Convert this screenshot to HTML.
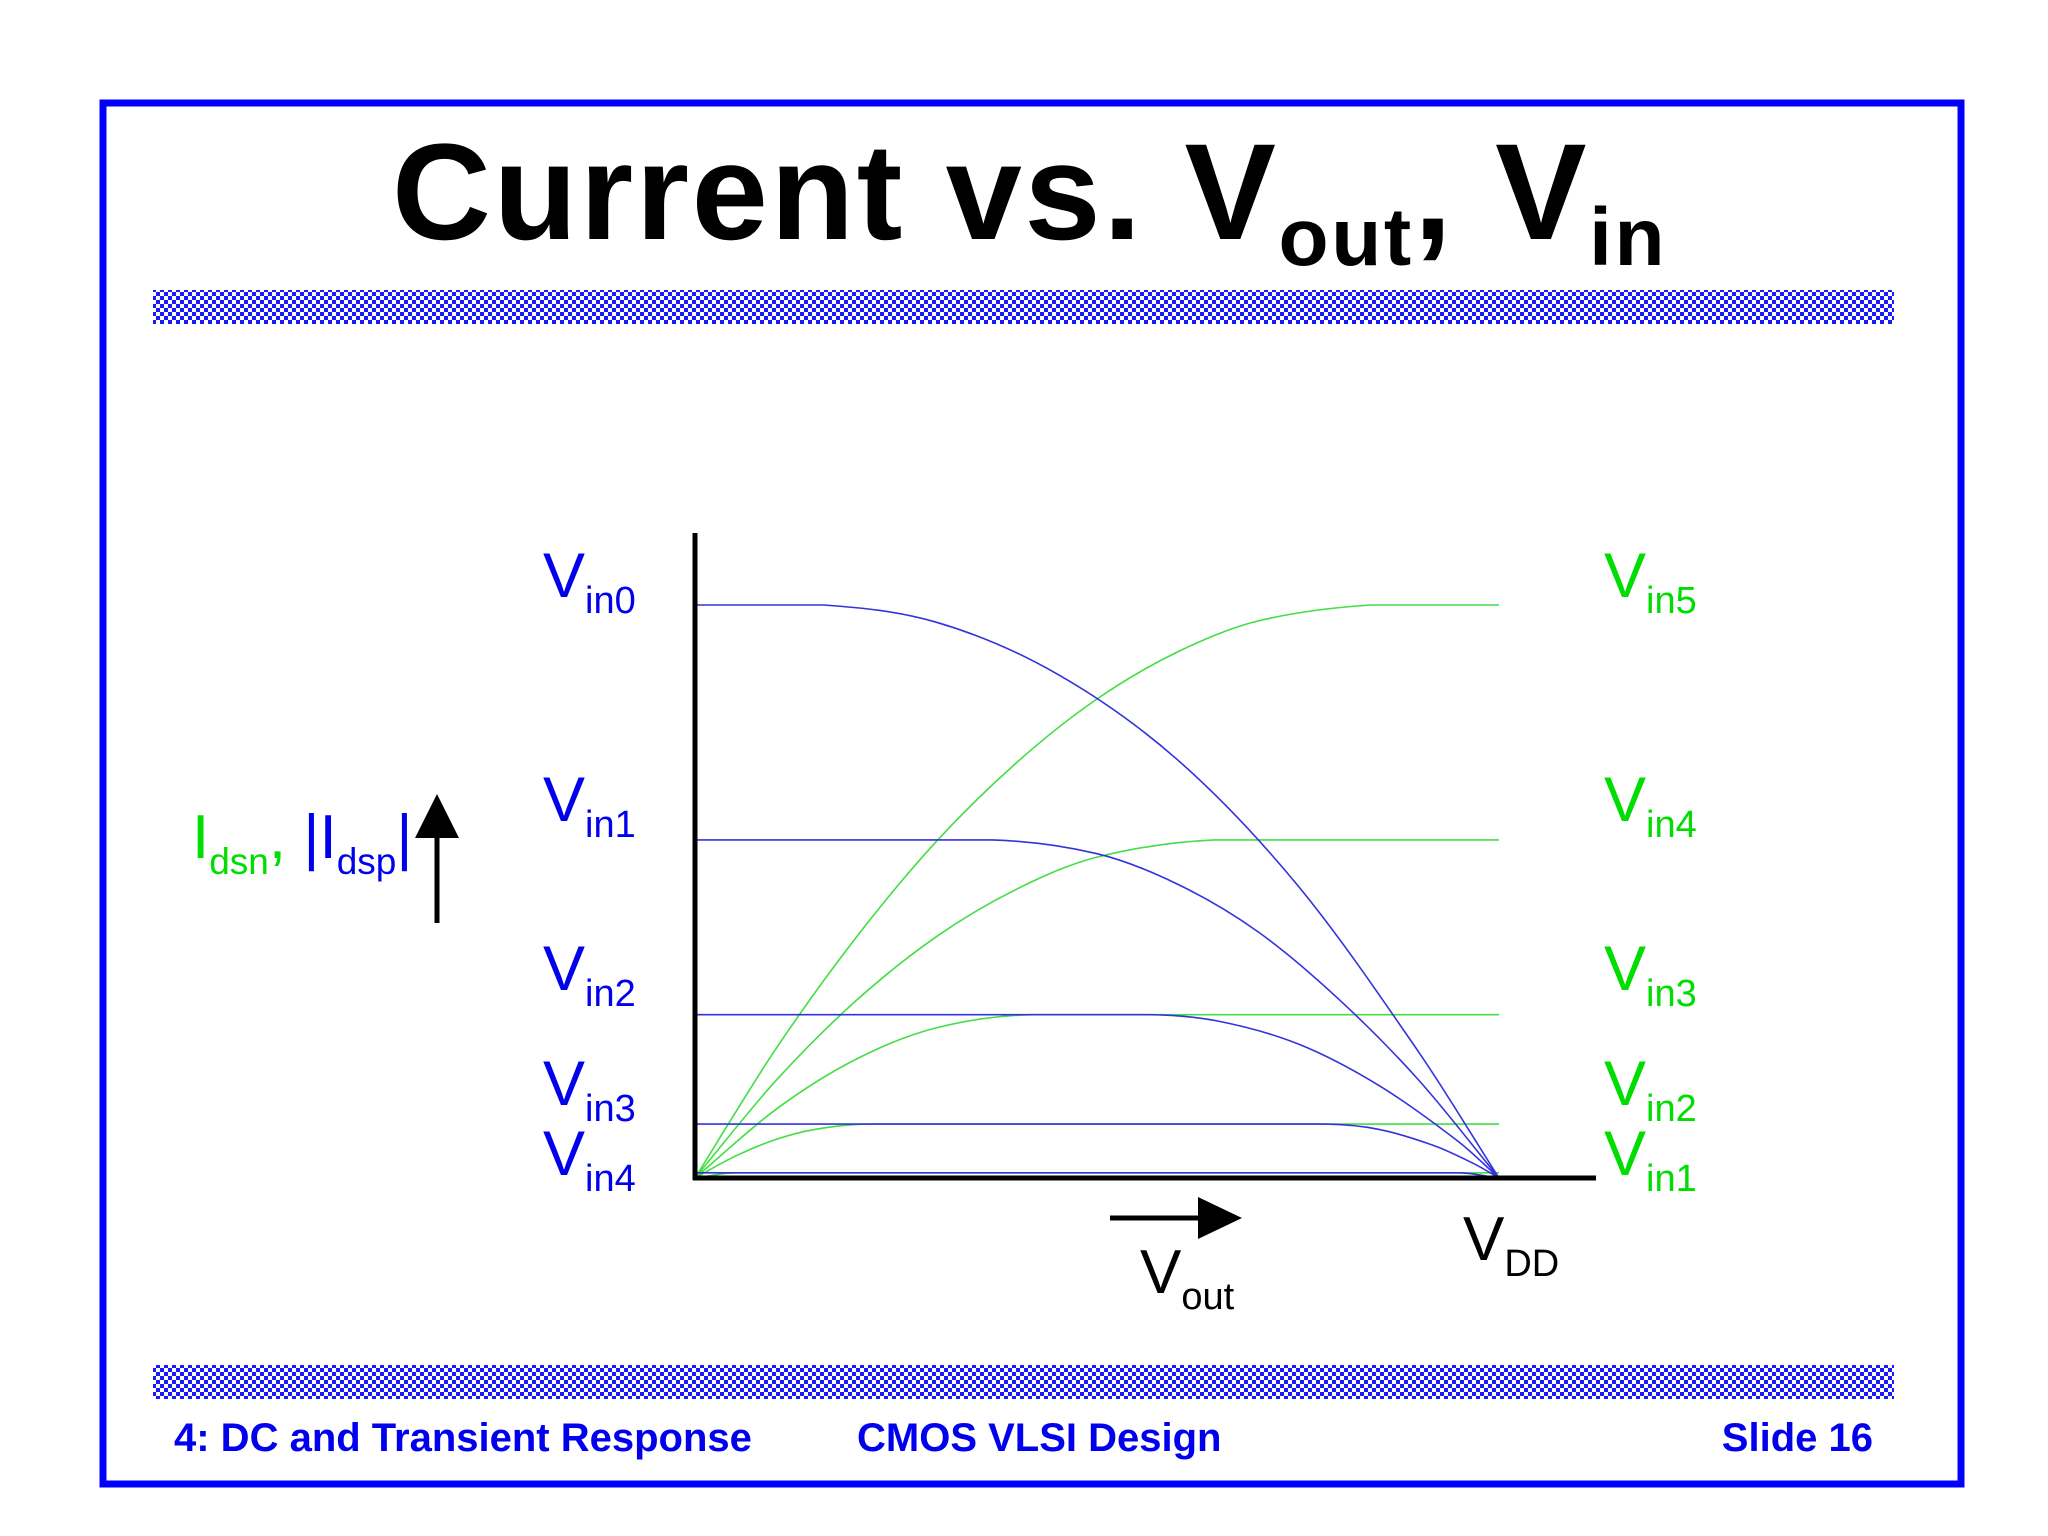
<!DOCTYPE html>
<html><head><meta charset="utf-8"><style>
html,body{margin:0;padding:0;background:#fff;}
svg{display:block;font-family:"Liberation Sans",Arial,sans-serif;}
</style></head><body>
<svg id="slide" width="2048" height="1536" viewBox="0 0 2048 1536" xmlns="http://www.w3.org/2000/svg">
<defs>
<pattern id="chk" width="8" height="8" patternUnits="userSpaceOnUse">
<rect width="8" height="8" fill="#fff"/><rect width="4" height="4" fill="#1a1aff"/><rect x="4" y="4" width="4" height="4" fill="#1a1aff"/>
</pattern>
</defs>
<rect x="103" y="103" width="1858" height="1381" fill="none" stroke="#0000ff" stroke-width="7"/>
<text x="392" y="239" font-size="137" font-weight="bold" letter-spacing="2.6" fill="#000">Current vs. V<tspan font-size="82" dy="26">out</tspan><tspan dy="-26">, V</tspan><tspan font-size="82" dy="26">in</tspan></text>
<rect x="153" y="290" width="1741" height="34" fill="url(#chk)"/>
<rect x="153" y="1365" width="1741" height="34" fill="url(#chk)"/>
<g font-size="40" font-weight="bold" fill="#0000ee">
<text x="174" y="1451">4: DC and Transient Response</text>
<text x="857" y="1451">CMOS VLSI Design</text>
<text x="1873" y="1451" text-anchor="end">Slide 16</text>
</g>
<g id="plot"></g>
<text x="192" y="858" font-size="62" fill="#00dd00">I<tspan font-size="37" dy="16">dsn</tspan><tspan dy="-16">, </tspan><tspan fill="#0000ee">|I</tspan><tspan fill="#0000ee" font-size="37" dy="16">dsp</tspan><tspan fill="#0000ee" dy="-16">|</tspan></text>
<g>
<line x1="437" y1="923" x2="437" y2="830" stroke="#000" stroke-width="5"/>
<polygon points="437,794 415,838 459,838" fill="#000"/>
</g>
<g>
<line x1="1110" y1="1218" x2="1205" y2="1218" stroke="#000" stroke-width="5"/>
<polygon points="1242,1218 1198,1197 1198,1239" fill="#000"/>
</g>
<text x="1140" y="1293" font-size="62" fill="#000">V<tspan font-size="38" dy="16">out</tspan></text>
<text x="1463" y="1260" font-size="62" fill="#000">V<tspan font-size="38" dy="16">DD</tspan></text>
</svg>
<script>
const blueNames = ['Vin0','Vin1','Vin2','Vin3','Vin4'];
const blueX0 = [0,0.16,0.3,0.45,0.6,0.75,0.9,1];
const blueY0 = [1,1,0.97,0.88,0.73,0.51,0.22,0];
const blueX1 = [0,0.37,0.5,0.6,0.7,0.8,0.9,1];
const blueY1 = [0.59,0.59,0.566,0.513,0.43,0.313,0.171,0];
const blueX2 = [0,0.565,0.65,0.75,0.85,0.95,1];
const blueY2 = [0.285,0.285,0.274,0.234,0.162,0.063,0];
const blueX3 = [0,0.784,0.85,0.92,0.97,1];
const blueY3 = [0.094,0.094,0.085,0.056,0.024,0];
const blueX4 = [0,0.95,1];
const blueY4 = [0.009,0.009,0];
const greenNames = ['Vin5','Vin4','Vin3','Vin2','Vin1'];
const greenX5 = [0,0.1,0.2,0.3,0.4,0.5,0.6,0.7,0.84,1];
const greenY5 = [0,0.224,0.419,0.587,0.725,0.836,0.918,0.972,1,1];
const greenX4 = [0,0.1,0.2,0.3,0.4,0.5,0.646,1];
const greenY4 = [0,0.169,0.309,0.421,0.504,0.56,0.59,0.59];
const greenX3 = [0,0.1,0.2,0.3,0.42,1];
const greenY3 = [0,0.119,0.207,0.262,0.285,0.285];
const greenX2 = [0,0.05,0.1,0.15,0.216,1];
const greenY2 = [0,0.038,0.067,0.085,0.094,0.094];
const greenX1 = [0,0.05,1];
const greenY1 = [0,0.009,0.009];
const leftLabelY = [597,821,990,1105,1175];
const labelSubs = ['0','1','2','3','4'];
const rightSubs = ['5','4','3','2','1'];

const NS='http://www.w3.org/2000/svg';
const plot=document.getElementById('plot');
const X0=695, X1=1499, Y0=1178, YH=573;
const sx=v=>X0+v*(X1-X0);
const sy=v=>Y0-v*YH;
const clamp=(v,a,b)=>Math.min(Math.max(v,Math.min(a,b)),Math.max(a,b));
function curve(xs,ys,color,name){
  const P=xs.map((x,i)=>[sx(x),sy(ys[i])]);
  let d='M'+P[0][0].toFixed(1)+','+P[0][1].toFixed(1);
  for(let i=0;i<P.length-1;i++){
    const p0=P[Math.max(0,i-1)],p1=P[i],p2=P[i+1],p3=P[Math.min(P.length-1,i+2)];
    const h=p2[0]-p1[0];
    const s1=(p2[1]-p0[1])/Math.max(p2[0]-p0[0],1e-6);
    const s2=(p3[1]-p1[1])/Math.max(p3[0]-p1[0],1e-6);
    let c1=[p1[0]+h/3,clamp(p1[1]+s1*h/3,p1[1],p2[1])];
    let c2=[p2[0]-h/3,clamp(p2[1]-s2*h/3,p1[1],p2[1])];
    if(p1[1]===p2[1]){c1[1]=p1[1];c2[1]=p2[1];}
    d+=' C'+c1[0].toFixed(1)+','+c1[1].toFixed(1)+' '+c2[0].toFixed(1)+','+c2[1].toFixed(1)+' '+p2[0].toFixed(1)+','+p2[1].toFixed(1);
  }
  const p=document.createElementNS(NS,'path');
  p.setAttribute('d',d);
  p.setAttribute('fill','none');p.setAttribute('stroke',color);p.setAttribute('stroke-width','1.6');
  
  
  plot.appendChild(p);
}
const greens=[[greenX5,greenY5],[greenX4,greenY4],[greenX3,greenY3],[greenX2,greenY2],[greenX1,greenY1]];
greens.forEach((g,i)=>curve(g[0],g[1],'#44dd44','nmos-curve-'+greenNames[i].toLowerCase()));
const blues=[[blueX0,blueY0],[blueX1,blueY1],[blueX2,blueY2],[blueX3,blueY3],[blueX4,blueY4]];
blues.forEach((b,i)=>curve(b[0],b[1],'#3333dd','pmos-curve-'+blueNames[i].toLowerCase()));
const ya=document.createElementNS(NS,'line');
ya.setAttribute('x1',X0);ya.setAttribute('x2',X0);ya.setAttribute('y1',533);ya.setAttribute('y2',Y0+2);
ya.setAttribute('stroke','#000');ya.setAttribute('stroke-width','5');


plot.appendChild(ya);
const xa=document.createElementNS(NS,'line');
xa.setAttribute('x1',X0-2);xa.setAttribute('x2',1596);xa.setAttribute('y1',Y0);xa.setAttribute('y2',Y0);
xa.setAttribute('stroke','#000');xa.setAttribute('stroke-width','5');


plot.appendChild(xa);
function label(x,y,sub,color,name){
  const t=document.createElementNS(NS,'text');
  t.setAttribute('x',x);t.setAttribute('y',y);t.setAttribute('font-size','63');t.setAttribute('fill',color);
  t.innerHTML='V<tspan font-size="38" dy="16">in'+sub+'</tspan>';
  
  
  plot.appendChild(t);
}
leftLabelY.forEach((y,i)=>label(543,y,labelSubs[i],'#0000ee','left-label-vin'+labelSubs[i]));
leftLabelY.forEach((y,i)=>label(1604,y,rightSubs[i],'#00dd00','right-label-vin'+rightSubs[i]));
</script>
</body></html>
